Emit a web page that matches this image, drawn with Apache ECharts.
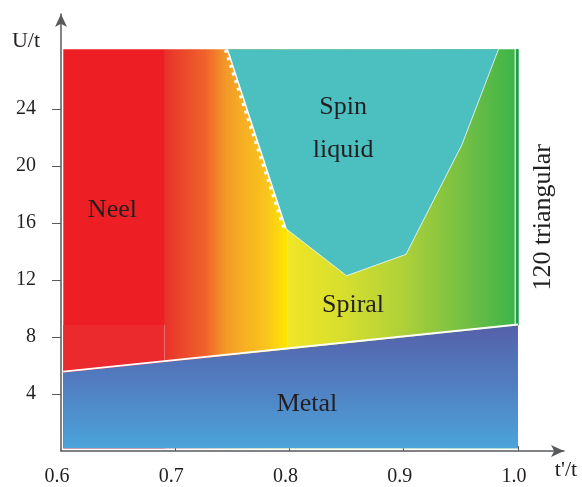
<!DOCTYPE html>
<html>
<head>
<meta charset="utf-8">
<script src="https://cdn.jsdelivr.net/npm/echarts@6.0.0/dist/echarts.min.js"></script>
<style>
html, body { margin: 0; padding: 0; background: #fff; }
#chart { width: 582px; height: 487px; }
</style>
</head>
<body>
<div id="chart"></div>
<script>
const xTicks = [0.6, 0.7, 0.8, 0.9, 1.0]
const yTicks = [4, 8, 12, 16, 20, 24]

// frame of the diagram in (t'/t, U/t)
const xLeft = 0.602
const xRight = 1.0
const uBottom = 0.2
const uTop = 28.2

// phase boundaries
const neelEnd = 0.691
const spiralStart = 0.798
const neelInnerTop = 8.85
const metalEdgeX = [0.602, 1.0]
const metalEdgeU = [5.5, 8.8]
const spinX = [0.7456, 0.797, 0.850, 0.902, 0.951, 0.983]
const spinU = [28.2, 15.6, 12.3, 13.8, 21.5, 28.2]

const phaseNames = ['Neel', 'Spin', 'liquid', 'Spiral', 'Metal', '120 triangular']
const nameX = [0.645, 0.847, 0.847, 0.8556, 0.8153, 1.0219]
const nameU = [16.9, 24.1, 21.1, 10.25, 3.3, 16.4]

const serif = "'Liberation Serif', 'Times New Roman', serif"
const ink = '#231F20'

const hGrad = (stops) => new echarts.graphic.LinearGradient(0, 0, 1, 0,
    stops.map((c, i) => ({ offset: i / (stops.length - 1), color: c })))

const box = (api, x0, x1, u0, u1) => {
    const a = api.coord([x0, u1])
    const b = api.coord([x1, u0])
    return { x: a[0], y: a[1], width: b[0] - a[0], height: b[1] - a[1] }
}

const renderPhases = (params, api) => {
    const metal = metalEdgeX.map((x, i) => api.coord([x, metalEdgeU[i]]))
    const spin = spinX.map((x, i) => api.coord([x, spinU[i]]))
    const bl = api.coord([xLeft, uBottom])
    const br = api.coord([xRight, uBottom])
    const rTop = api.coord([xRight, uTop])
    const nTop = api.coord([neelEnd, neelInnerTop])
    const nBot = api.coord([neelEnd, 6.3])

    // white dotted side of the spin liquid edge
    const dx = spin[1][0] - spin[0][0], dy = spin[1][1] - spin[0][1]
    const len = Math.sqrt(dx * dx + dy * dy)
    const nx = -dy / len * 2, ny = dx / len * 2

    return {
        type: 'group',
        children: [
            { type: 'rect', shape: box(api, xLeft, neelEnd, uBottom, uTop), style: { fill: '#ED1F24' } },
            { type: 'rect', shape: box(api, xLeft, neelEnd, uBottom, neelInnerTop), style: { fill: '#EB2A2E' } },
            { type: 'line', shape: { x1: nTop[0], y1: nTop[1], x2: nBot[0], y2: nBot[1] },
              style: { stroke: 'rgba(255,255,255,0.6)', lineWidth: 1 } },
            { type: 'rect', shape: box(api, neelEnd, spiralStart, uBottom, uTop),
              style: { fill: hGrad(['#E8322B', '#EC4A2B', '#EF632B', '#F39A28', '#F7B222', '#FAC51C', '#FFE600']) } },
            { type: 'rect', shape: box(api, spiralStart, xRight, uBottom, uTop),
              style: { fill: hGrad(['#F0E626', '#D6DE2E', '#AFD138', '#78C043', '#38B44A']) } },
            { type: 'polygon', shape: { points: spin }, style: { fill: '#4CC0C1' } },
            { type: 'polyline', shape: { points: spin.slice(1) },
              style: { stroke: 'rgba(255,255,255,0.75)', lineWidth: 1, fill: null } },
            { type: 'line', shape: { x1: spin[0][0], y1: spin[0][1], x2: spin[1][0], y2: spin[1][1] },
              style: { stroke: '#fff', lineWidth: 1.5 } },
            { type: 'line', shape: { x1: spin[0][0] + nx, y1: spin[0][1] + ny, x2: spin[1][0] + nx, y2: spin[1][1] + ny },
              style: { stroke: '#fff', lineWidth: 3, lineDash: [3, 5] } },
            { type: 'line', shape: { x1: rTop[0] - 2.8, y1: rTop[1], x2: metal[1][0] - 2.8, y2: metal[1][1] },
              style: { stroke: '#fff', lineWidth: 1 } },
            { type: 'line', shape: { x1: rTop[0] - 0.5, y1: rTop[1], x2: metal[1][0] - 0.5, y2: metal[1][1] },
              style: { stroke: '#1B9A49', lineWidth: 2.5 } },
            { type: 'polygon', shape: { points: [bl, br, metal[1], metal[0]] },
              style: { fill: new echarts.graphic.LinearGradient(0, 0, 0, 1, [
                  { offset: 0, color: '#5560AA' }, { offset: 0.5, color: '#5180C2' }, { offset: 1, color: '#4BA4DA' }]) } },
            { type: 'line', shape: { x1: metal[0][0], y1: metal[0][1] - 1, x2: metal[1][0], y2: metal[1][1] - 1 },
              style: { stroke: '#fff', lineWidth: 2 } }
        ]
    }
}

const renderNames = (params, api) => {
    const i = params.dataIndex
    const p = api.coord([nameX[i], nameU[i]])
    return {
        type: 'text',
        x: p[0],
        y: p[1],
        rotation: phaseNames[i] === '120 triangular' ? Math.PI / 2 : 0,
        style: {
            text: phaseNames[i],
            fill: ink,
            fontSize: 26,
            fontFamily: serif,
            align: 'center',
            verticalAlign: 'middle'
        }
    }
}

const chart = echarts.init(document.getElementById('chart'))
chart.setOption({
    animation: false,
    grid: { left: 61, right: 18, top: 14, bottom: 36 },
    xAxis: {
        type: 'value',
        min: 0.6,
        max: 1.0403,
        splitLine: { show: false },
        axisLine: { lineStyle: { color: '#58595B', width: 1.5 }, symbol: ['none', 'arrow'], symbolSize: [9, 13] },
        axisTick: { customValues: xTicks.slice(1), inside: true, length: 5, lineStyle: { color: '#58595B' } },
        axisLabel: {
            customValues: xTicks,
            formatter: (v) => v.toFixed(1),
            margin: 16,
            padding: [0, 8, 0, 0],
            color: ink,
            fontSize: 20,
            fontFamily: serif
        }
    },
    yAxis: {
        type: 'value',
        min: 0,
        max: 30.667,
        splitLine: { show: false },
        axisLine: { lineStyle: { color: '#58595B', width: 1.5 }, symbol: ['none', 'arrow'], symbolSize: [9, 13] },
        axisTick: { customValues: yTicks, length: 9, lineStyle: { color: '#58595B' } },
        axisLabel: {
            customValues: yTicks,
            margin: 25,
            color: ink,
            fontSize: 20,
            fontFamily: serif
        }
    },
    graphic: [
        { type: 'text', x: 26, y: 41, style: { text: 'U/t', fill: ink, fontSize: 22, fontFamily: serif, align: 'center', verticalAlign: 'middle' } },
        { type: 'text', x: 566, y: 470, style: { text: "t'/t", fill: ink, fontSize: 22, fontFamily: serif, align: 'center', verticalAlign: 'middle' } }
    ],
    series: [
        { type: 'custom', coordinateSystem: 'cartesian2d', renderItem: renderPhases, data: [[xLeft, uBottom]], silent: true },
        { type: 'custom', coordinateSystem: 'cartesian2d', renderItem: renderNames,
          data: phaseNames.map((n, i) => [nameX[i], nameU[i]]), silent: true }
    ]
})
</script>
</body>
</html>
